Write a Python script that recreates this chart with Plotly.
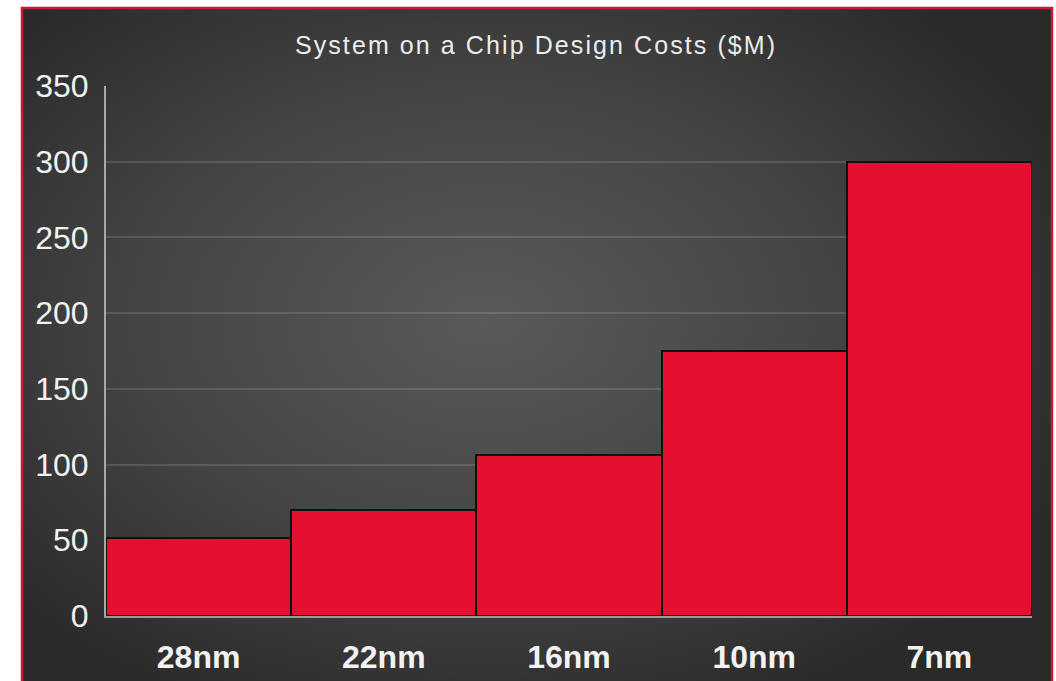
import base64
import plotly.graph_objects as go

nodes = ["28nm", "22nm", "16nm", "10nm", "7nm"]
costs = [51.5, 69.7, 106, 175, 300]
y_ticks = [0, 50, 100, 150, 200, 250, 300, 350]
title_text = "System on a Chip Design Costs ($M)"

W, H = 1056, 681
L, R, T, B = 106, 24, 86, 65
pw, ph = W - L - R, H - T - B

def px_x(x):
    return (x - L) / pw

def px_y(y):
    return (H - B - y) / ph

svg = (
    '<svg xmlns="http://www.w3.org/2000/svg" width="1031" height="680" preserveAspectRatio="none">'
    '<defs><radialGradient id="g" cx="0.45" cy="0.45" r="0.62">'
    '<stop offset="0" stop-color="#5a5a5a"/>'
    '<stop offset="0.55" stop-color="#444444"/>'
    '<stop offset="1" stop-color="#2a2a2a"/>'
    '</radialGradient></defs>'
    '<rect width="1031" height="680" fill="url(#g)"/></svg>'
)
bg_src = "data:image/svg+xml;base64," + base64.b64encode(svg.encode()).decode()

fig = go.Figure()
fig.add_trace(go.Bar(
    x=nodes, y=costs,
    marker=dict(color="#e3102f", line=dict(color="#111111", width=2)),
    hoverinfo="x+y",
))

spaced_title = "\u200a".join(list(title_text))

fig.update_layout(
    width=W, height=H,
    margin=dict(l=L, r=R, t=T, b=B),
    paper_bgcolor="white",
    plot_bgcolor="rgba(0,0,0,0)",
    bargap=0,
    showlegend=False,
    title=dict(
        text=spaced_title,
        font=dict(family="Liberation Sans, Arial, sans-serif", size=25, color="#ececec"),
        x=535 / W, xref="container", xanchor="center",
        y=1 - 45 / H, yref="container", yanchor="middle",
    ),
    xaxis=dict(
        range=[-0.5, 4.5],
        showgrid=False,
        showline=True, linecolor="#9a9a9a", linewidth=2,
        ticks="outside", ticklen=12, tickcolor="rgba(0,0,0,0)",
        tickfont=dict(family="Liberation Sans, Arial, sans-serif", size=32,
                      color="#f2f2f2", weight="bold"),
        automargin=False,
        fixedrange=True,
    ),
    yaxis=dict(
        range=[0, 350],
        tickvals=y_ticks,
        showgrid=True, gridcolor="rgba(255,255,255,0.13)", gridwidth=2,
        zeroline=False,
        showline=True, linecolor="#a8a8a8", linewidth=2,
        ticks="outside", ticklen=9, tickcolor="rgba(0,0,0,0)",
        tickfont=dict(family="Liberation Sans, Arial, sans-serif", size=32, color="#f2f2f2"),
        automargin=False,
        fixedrange=True,
    ),
    images=[dict(
        source=bg_src, xref="paper", yref="paper",
        x=px_x(22), y=px_y(8), sizex=(1052 - 22) / pw, sizey=(H + 20 - 8) / ph,
        xanchor="left", yanchor="top", sizing="stretch", layer="below",
    )],
    shapes=[dict(
        type="rect", xref="paper", yref="paper",
        x0=px_x(22), x1=px_x(1052), y0=px_y(H + 20), y1=px_y(8),
        line=dict(color="#cc1a35", width=2.5), fillcolor="rgba(0,0,0,0)",
        layer="below",
    )],
)

fig.write_html("out.html")
